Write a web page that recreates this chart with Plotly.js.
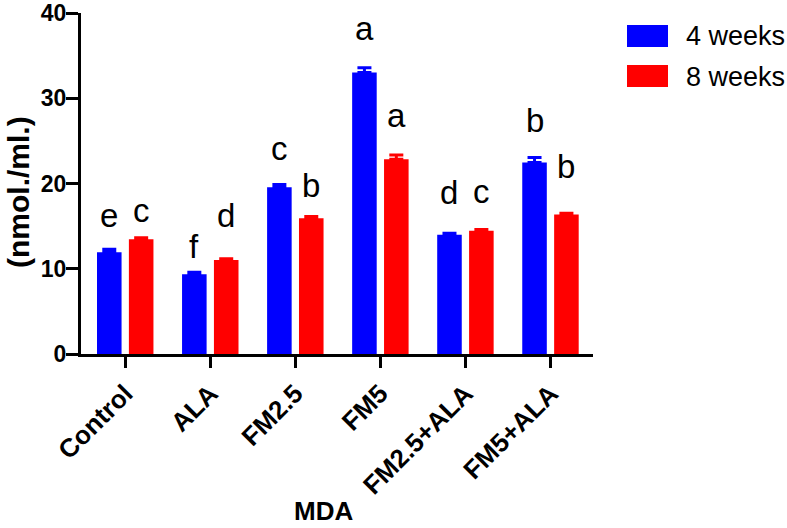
<!DOCTYPE html>
<html>
<head>
<meta charset="utf-8">
<script src="https://cdn.plot.ly/plotly-3.0.1.min.js"></script>
<style>
  html, body { margin: 0; padding: 0; background: #ffffff; }
  #chart { width: 787px; height: 528px; }
</style>
</head>
<body>
<div id="chart"></div>
<script>
// MDA levels (nmol./ml.) by treatment group after 4 and 8 weeks
const groups = ['Control', 'ALA', 'FM2.5', 'FM5', 'FM2.5+ALA', 'FM5+ALA'];
const seriesNames = ['4 weeks', '8 weeks'];
const week4 = [11.95, 9.35, 19.57, 33.02, 14.0, 22.45];
const week4Err = [0.35, 0.25, 0.3, 0.55, 0.15, 0.6];
const week8 = [13.45, 11.03, 15.93, 22.85, 14.47, 16.35];
const week8Err = [0.2, 0.15, 0.2, 0.5, 0.12, 0.15];
const week4Letters = ['e', 'f', 'c', 'a', 'd', 'b'];
const week8Letters = ['c', 'd', 'b', 'a', 'c', 'b'];
const xTitle = 'MDA';
const yTitle = '(nmol./ml.)';
const yTicks = [0, 10, 20, 30, 40];

// ---- styling / geometry ----
const W = 787, H = 528;
const M = { l: 81, r: 194, t: 13, b: 174 };
const BARGAP = 0.25, GROUPGAP = 0.23;
const COLORS = ['#0000ff', '#ff0000'];
const FONT = 'Liberation Sans, Arial, Helvetica, sans-serif';
// how far (px) each significance letter sits above its error cap
const lift4 = [21, 13, 24, 27, 28, 25];
const lift8 = [15, 31, 18, 27, 26, 34];
const LETTER_BASE = -8;

const plotW = W - M.l - M.r, plotH = H - M.t - M.b;
const px2x = px => (px - M.l) / plotW;
const px2y = py => 1 - (py - M.t) / plotH;

function barTrace(name, vals, errs, color) {
  return {
    type: 'bar', name: name, x: groups, y: vals,
    marker: { color: color, line: { width: 0 } },
    error_y: {
      type: 'data', symmetric: false, array: errs,
      arrayminus: errs.map(() => 0),
      color: color, thickness: 3, width: 7
    },
    hoverinfo: 'skip'
  };
}

const traces = [
  barTrace(seriesNames[0], week4, week4Err, COLORS[0]),
  barTrace(seriesNames[1], week8, week8Err, COLORS[1])
];

// significance letters above each bar
const off = (1 - BARGAP) / 4;
const annotations = [];
const letterSets = [
  { letters: week4Letters, vals: week4, errs: week4Err, lift: lift4, dx: -off },
  { letters: week8Letters, vals: week8, errs: week8Err, lift: lift8, dx: off }
];
letterSets.forEach(s => {
  groups.forEach((g, i) => {
    annotations.push({
      xref: 'x', yref: 'y', x: i + s.dx, y: s.vals[i] + s.errs[i],
      text: s.letters[i], showarrow: false,
      xanchor: 'center', yanchor: 'bottom', yshift: s.lift[i] + LETTER_BASE,
      font: { family: FONT, size: 33, color: '#000000' }
    });
  });
});

// legend: large colour swatches with labels
const shapes = [];
const legendRows = [25, 65];
seriesNames.forEach((name, k) => {
  const top = legendRows[k];
  shapes.push({
    type: 'rect', xref: 'paper', yref: 'paper',
    x0: px2x(627), x1: px2x(668), y0: px2y(top + 22), y1: px2y(top),
    fillcolor: COLORS[k], line: { width: 0 }
  });
  annotations.push({
    xref: 'paper', yref: 'paper', x: px2x(684), y: px2y(top + 11.5),
    xanchor: 'left', yanchor: 'middle', showarrow: false, text: name,
    font: { family: FONT, size: 27, color: '#000000' }
  });
});

// axis titles
annotations.push({
  xref: 'paper', yref: 'paper', x: px2x(323), y: px2y(511),
  xanchor: 'center', yanchor: 'middle', showarrow: false, text: xTitle,
  font: { family: FONT, size: 26, weight: 'bold', color: '#000000' }
});
annotations.push({
  xref: 'paper', yref: 'paper', x: px2x(18), y: px2y(192),
  xanchor: 'center', yanchor: 'middle', showarrow: false, text: yTitle,
  textangle: -90,
  font: { family: FONT, size: 30, weight: 'bold', color: '#000000' }
});

const layout = {
  width: W, height: H,
  margin: M,
  paper_bgcolor: '#ffffff', plot_bgcolor: '#ffffff',
  barmode: 'group', bargap: BARGAP, bargroupgap: GROUPGAP,
  showlegend: false,
  font: { family: FONT, color: '#000000' },
  xaxis: {
    type: 'category', range: [-0.52, 5.5],
    showline: true, linecolor: '#000000', linewidth: 3,
    ticks: 'outside', ticklen: 11, tickwidth: 3, tickcolor: '#000000',
    tickangle: -45,
    tickfont: { family: FONT, size: 26, weight: 'bold', color: '#000000' },
    showgrid: false, zeroline: false
  },
  yaxis: {
    range: [0, 40], tickvals: yTicks, ticktext: yTicks.map(String),
    showline: true, linecolor: '#000000', linewidth: 3,
    ticks: 'outside', ticklen: 12, tickwidth: 3, tickcolor: '#000000',
    ticklabelstandoff: -5,
    tickfont: { family: FONT, size: 23, weight: 'bold', color: '#000000' },
    showgrid: false, zeroline: false
  },
  annotations: annotations,
  shapes: shapes
};

Plotly.newPlot('chart', traces, layout, { staticPlot: true, displayModeBar: false });
</script>
</body>
</html>
